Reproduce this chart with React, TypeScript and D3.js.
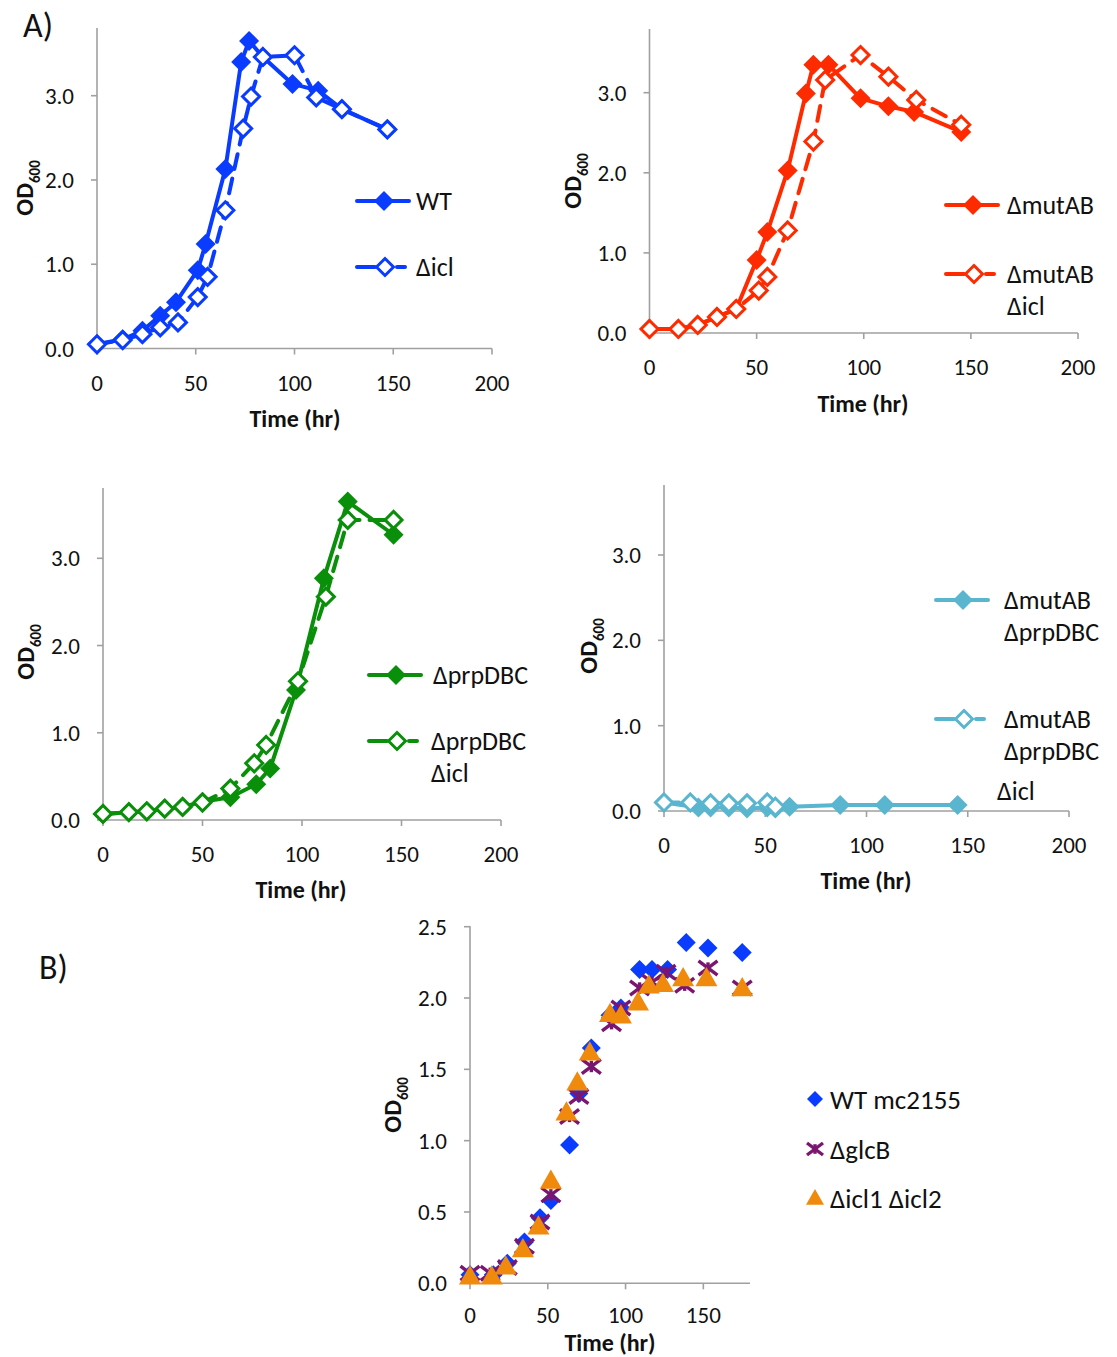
import React from "react";
import * as d3 from "d3";

// ---------- DATA ----------
// Panel A1: WT vs Δicl
const a1WtTime = [0, 13, 23, 32, 40, 51, 55, 65, 73, 77, 84, 99, 112, 124, 147];
const a1WtOD = [0.05, 0.11, 0.21, 0.39, 0.55, 0.93, 1.24, 2.13, 3.4, 3.65, 3.46, 3.14, 3.06, 2.84, 2.6];
const a1IclTime = [0, 13, 23, 32, 41, 51, 56, 65, 74, 78, 84, 100, 111, 124, 147];
const a1IclOD = [0.05, 0.1, 0.17, 0.25, 0.31, 0.61, 0.85, 1.64, 2.61, 2.99, 3.46, 3.48, 2.98, 2.84, 2.6];

// Panel A2: ΔmutAB vs ΔmutAB Δicl
const a2MutTime = [0, 13.5, 22.5, 31.5, 40.5, 50, 55, 64.5, 73, 76.5, 83.5, 98.5, 111.5, 123.5, 145.5];
const a2MutOD = [0.05, 0.05, 0.1, 0.2, 0.3, 0.91, 1.26, 2.03, 2.99, 3.35, 3.35, 2.93, 2.83, 2.76, 2.51];
const a2MutIclTime = [0, 13.5, 22.5, 31.5, 40.5, 51, 55, 64.5, 76.5, 82, 98.5, 111.5, 124.5, 145.5];
const a2MutIclOD = [0.05, 0.05, 0.1, 0.2, 0.3, 0.53, 0.7, 1.28, 2.39, 3.16, 3.47, 3.2, 2.91, 2.6];

// Panel A3: ΔprpDBC vs ΔprpDBC Δicl
const a3PrpTime = [0, 13, 22, 31, 40, 50, 64, 77, 84, 97, 111, 123, 146];
const a3PrpOD = [0.07, 0.09, 0.1, 0.13, 0.15, 0.21, 0.26, 0.41, 0.59, 1.49, 2.77, 3.65, 3.27];
const a3PrpIclTime = [0, 13, 22, 31, 40, 50, 64, 76, 82, 98, 112, 123, 146];
const a3PrpIclOD = [0.07, 0.09, 0.1, 0.13, 0.15, 0.2, 0.36, 0.65, 0.86, 1.59, 2.56, 3.44, 3.44];

// Panel A4: ΔmutAB ΔprpDBC vs ΔmutAB ΔprpDBC Δicl
const a4DblTime = [0, 17, 23, 32, 41, 51, 55, 62, 87, 109, 145];
const a4DblOD = [0.1, 0.04, 0.04, 0.04, 0.03, 0.04, 0.03, 0.05, 0.07, 0.07, 0.07];
const a4DblIclTime = [0, 13, 23, 32, 41, 51, 55];
const a4DblIclOD = [0.1, 0.1, 0.09, 0.09, 0.09, 0.1, 0.05];

// Panel B
const bWtTime = [0, 15, 24, 35, 45, 52, 64, 70, 78, 90, 97, 109, 117, 127, 139, 153, 175];
const bWtOD = [0.06, 0.06, 0.14, 0.29, 0.46, 0.58, 0.97, 1.33, 1.65, 1.88, 1.93, 2.2, 2.2, 2.2, 2.39, 2.35, 2.32];
const bGlcTime = [0, 13, 24, 35, 45, 52, 64, 70, 78, 91, 97, 109, 117, 126, 138, 153, 175];
const bGlcOD = [0.07, 0.07, 0.11, 0.26, 0.43, 0.62, 1.17, 1.31, 1.52, 1.82, 1.93, 2.07, 2.11, 2.18, 2.09, 2.21, 2.07];
const bIclTime = [0, 14, 23, 34, 44, 52, 62, 69, 77, 90, 97, 108, 115, 124, 137, 152, 175];
const bIclOD = [0.05, 0.05, 0.12, 0.24, 0.4, 0.72, 1.2, 1.41, 1.62, 1.89, 1.88, 1.97, 2.09, 2.1, 2.14, 2.14, 2.07];

const aXTicks = [0, 50, 100, 150, 200];
const aYTicks = [0, 1, 2, 3];
const bXTicks = [0, 50, 100, 150];
const bYTicks = [0, 0.5, 1, 1.5, 2, 2.5];

// ---------- STYLE ----------
const FONT = "Carlito, Lato, 'Open Sans', 'DejaVu Sans', sans-serif";
const AXIS = "#a0a0a0";
const BLUE = "#0a3cff";
const RED = "#ff2b00";
const GREEN = "#0a8f0a";
const TEAL = "#5ab5cf";
const B_BLUE = "#0a3cff";
const B_PURPLE = "#7a1670";
const B_ORANGE = "#f08a0c";
const TICK_FS = 23;
const LEG_FS = 26;

type Frame = {
  x0: number; x1: number; xMax: number;
  y0: number; yRefPx: number; yRef: number; yTop: number;
  xTicks: number[]; yTicks: number[]; yFmt: (v: number) => string;
  titleX: number; odX: number; odY: number; titleDy: number; tickDy: number;
};

const diamondPath = (x: number, y: number, r: number) =>
  `M${x},${y - r}L${x + r},${y}L${x},${y + r}L${x - r},${y}Z`;

function Axes({ f }: { f: Frame }) {
  const xs = d3.scaleLinear().domain([0, f.xMax]).range([f.x0, f.x1]);
  const ys = d3.scaleLinear().domain([0, f.yRef]).range([f.y0, f.yRefPx]);
  return (
    <g fontFamily={FONT}>
      <line x1={f.x0} x2={f.x0} y1={f.yTop} y2={f.y0} stroke={AXIS} strokeWidth={1.6} />
      <line x1={f.x0} x2={f.x1} y1={f.y0} y2={f.y0} stroke={AXIS} strokeWidth={1.6} />
      {f.yTicks.map((t) => (
        <g key={"y" + t}>
          <line x1={f.x0 - 6} x2={f.x0} y1={ys(t)} y2={ys(t)} stroke={AXIS} strokeWidth={1.6} />
          <text x={f.x0 - 23} y={ys(t) + 8} fontSize={TICK_FS} textAnchor="end" fill="#111">{f.yFmt(t)}</text>
        </g>
      ))}
      {f.xTicks.map((t) => (
        <g key={"x" + t}>
          <line x1={xs(t)} x2={xs(t)} y1={f.y0} y2={f.y0 + 6} stroke={AXIS} strokeWidth={1.6} />
          <text x={xs(t)} y={f.y0 + f.tickDy} fontSize={TICK_FS} textAnchor="middle" fill="#111">{t}</text>
        </g>
      ))}
      <text x={f.titleX} y={f.y0 + f.titleDy} fontSize={24} fontWeight="bold" textAnchor="middle" fill="#111">Time (hr)</text>
      <text transform={`translate(${f.odX},${f.odY}) rotate(-90)`} textAnchor="middle" fontWeight="bold" fill="#111">
        <tspan fontSize={25}>OD</tspan>
        <tspan fontSize={15} dy={7}>600</tspan>
      </text>
    </g>
  );
}

function LineSeries({ f, t, v, color, open }: { f: Frame; t: number[]; v: number[]; color: string; open: boolean }) {
  const xs = d3.scaleLinear().domain([0, f.xMax]).range([f.x0, f.x1]);
  const ys = d3.scaleLinear().domain([0, f.yRef]).range([f.y0, f.yRefPx]);
  const pts = t.map((d, i) => [xs(d), ys(v[i])] as [number, number]);
  const path = d3.line()(pts) || "";
  return (
    <g>
      <path d={path} fill="none" stroke={color} strokeWidth={4} strokeLinejoin="round" strokeLinecap="round"
        strokeDasharray={open ? "15,10" : undefined} />
      {pts.map((p, i) =>
        open ? (
          <path key={i} d={diamondPath(p[0], p[1], 8.5)} fill="#fff" stroke={color} strokeWidth={3} />
        ) : (
          <path key={i} d={diamondPath(p[0], p[1], 10)} fill={color} />
        )
      )}
    </g>
  );
}

function LegendItem({ x, y, color, open, lines, textX }: { x: number; y: number; color: string; open: boolean; lines: string[]; textX: number }) {
  return (
    <g fontFamily={FONT}>
      {open ? (
        <g>
          <line x1={x} x2={x + 18} y1={y} y2={y} stroke={color} strokeWidth={4} strokeLinecap="round" />
          <line x1={x + 40} x2={x + 48} y1={y} y2={y} stroke={color} strokeWidth={4} strokeLinecap="round" />
          <path d={diamondPath(x + 28, y, 8.5)} fill="#fff" stroke={color} strokeWidth={3} />
        </g>
      ) : (
        <g>
          <line x1={x} x2={x + 52} y1={y} y2={y} stroke={color} strokeWidth={4} strokeLinecap="round" />
          <path d={diamondPath(x + 27, y, 10)} fill={color} />
        </g>
      )}
      {lines.map((s, i) => (
        <text key={i} x={textX} y={y + 9 + i * 32} fontSize={LEG_FS} fill="#111">{s}</text>
      ))}
    </g>
  );
}

const f1: Frame = { x0: 97, x1: 492, xMax: 200, y0: 348.5, yRefPx: 95.7, yRef: 3, yTop: 28, xTicks: aXTicks, yTicks: aYTicks, yFmt: (v) => v.toFixed(1), titleX: 295, odX: 33, odY: 188, titleDy: 78, tickDy: 42 };
const f2: Frame = { x0: 649.5, x1: 1078, xMax: 200, y0: 333, yRefPx: 92.7, yRef: 3, yTop: 29, xTicks: aXTicks, yTicks: aYTicks, yFmt: (v) => v.toFixed(1), titleX: 863, odX: 581, odY: 181, titleDy: 79, tickDy: 42 };
const f3: Frame = { x0: 103, x1: 501, xMax: 200, y0: 820, yRefPx: 558.3, yRef: 3, yTop: 488, xTicks: aXTicks, yTicks: aYTicks, yFmt: (v) => v.toFixed(1), titleX: 301, odX: 34, odY: 652, titleDy: 78, tickDy: 42 };
const f4: Frame = { x0: 664, x1: 1069, xMax: 200, y0: 811, yRefPx: 555, yRef: 3, yTop: 485, xTicks: aXTicks, yTicks: aYTicks, yFmt: (v) => v.toFixed(1), titleX: 866, odX: 597, odY: 646, titleDy: 78, tickDy: 42 };
const fB: Frame = { x0: 470, x1: 750, xMax: 180, y0: 1283.3, yRefPx: 926.7, yRef: 2.5, yTop: 926, xTicks: bXTicks, yTicks: bYTicks, yFmt: (v) => v.toFixed(1), titleX: 610, odX: 401, odY: 1105, titleDy: 68, tickDy: 40 };

function BScatter() {
  const xs = d3.scaleLinear().domain([0, fB.xMax]).range([fB.x0, fB.x1]);
  const ys = d3.scaleLinear().domain([0, fB.yRef]).range([fB.y0, fB.yRefPx]);
  const xMark = (x: number, y: number, r: number, key: string) => (
    <g key={key} stroke={B_PURPLE} strokeWidth={3.4} strokeLinecap="butt">
      <line x1={x - r} y1={y - r * 0.75} x2={x + r} y2={y + r * 0.75} />
      <line x1={x - r} y1={y + r * 0.75} x2={x + r} y2={y - r * 0.75} />
      <line x1={x} y1={y - r * 0.6} x2={x} y2={y + r * 0.6} />
    </g>
  );
  const tri = (x: number, y: number, r: number) =>
    `M${x},${y - r}L${x + r},${y + r * 0.75}L${x - r},${y + r * 0.75}Z`;
  return (
    <g>
      {bWtTime.map((t, i) => (
        <path key={"w" + i} d={diamondPath(xs(t), ys(bWtOD[i]), 9.5)} fill={B_BLUE} />
      ))}
      {bGlcTime.map((t, i) => xMark(xs(t), ys(bGlcOD[i]), 9.5, "g" + i))}
      {bIclTime.map((t, i) => (
        <path key={"i" + i} d={tri(xs(t), ys(bIclOD[i]), 11)} fill={B_ORANGE} />
      ))}
      {/* legend */}
      <g fontFamily={FONT} fontSize={27} fill="#111">
        <path d={diamondPath(815, 1099, 8)} fill={B_BLUE} />
        <text x={830} y={1109}>WT mc2155</text>
        {xMark(815, 1149, 8, "lg")}
        <text x={830} y={1159}>ΔglcB</text>
        <path d={tri(815, 1198, 9)} fill={B_ORANGE} />
        <text x={830} y={1208}>Δicl1 Δicl2</text>
      </g>
    </g>
  );
}

export default function App() {
  return (
    <svg width={1117} height={1357} style={{ display: "block", position: "absolute", left: 0, top: 0, background: "#fff" }}>
      <rect width={1117} height={1357} fill="#fff" />
      <text x={23} y={37} fontFamily={FONT} fontSize={34} fill="#111">A)</text>
      <text x={39} y={979} fontFamily={FONT} fontSize={34} fill="#111">B)</text>

      <Axes f={f1} />
      <LineSeries f={f1} t={a1WtTime} v={a1WtOD} color={BLUE} open={false} />
      <LineSeries f={f1} t={a1IclTime} v={a1IclOD} color={BLUE} open={true} />
      <LegendItem x={357} y={201} color={BLUE} open={false} lines={["WT"]} textX={416} />
      <LegendItem x={357} y={267} color={BLUE} open={true} lines={["Δicl"]} textX={416} />

      <Axes f={f2} />
      <LineSeries f={f2} t={a2MutTime} v={a2MutOD} color={RED} open={false} />
      <LineSeries f={f2} t={a2MutIclTime} v={a2MutIclOD} color={RED} open={true} />
      <LegendItem x={946} y={205} color={RED} open={false} lines={["ΔmutAB"]} textX={1007} />
      <LegendItem x={946} y={274} color={RED} open={true} lines={["ΔmutAB", "Δicl"]} textX={1007} />

      <Axes f={f3} />
      <LineSeries f={f3} t={a3PrpTime} v={a3PrpOD} color={GREEN} open={false} />
      <LineSeries f={f3} t={a3PrpIclTime} v={a3PrpIclOD} color={GREEN} open={true} />
      <LegendItem x={369} y={675} color={GREEN} open={false} lines={["ΔprpDBC"]} textX={433} />
      <LegendItem x={369} y={741} color={GREEN} open={true} lines={["ΔprpDBC", "Δicl"]} textX={431} />

      <Axes f={f4} />
      <LineSeries f={f4} t={a4DblTime} v={a4DblOD} color={TEAL} open={false} />
      <LineSeries f={f4} t={a4DblIclTime} v={a4DblIclOD} color={TEAL} open={true} />
      <LegendItem x={936} y={600} color={TEAL} open={false} lines={["ΔmutAB", "ΔprpDBC"]} textX={1004} />
      <LegendItem x={936} y={719} color={TEAL} open={true} lines={["ΔmutAB", "ΔprpDBC"]} textX={1004} />
      <text x={997} y={800} fontFamily={FONT} fontSize={LEG_FS} fill="#111">Δicl</text>

      <Axes f={fB} />
      <BScatter />
    </svg>
  );
}
